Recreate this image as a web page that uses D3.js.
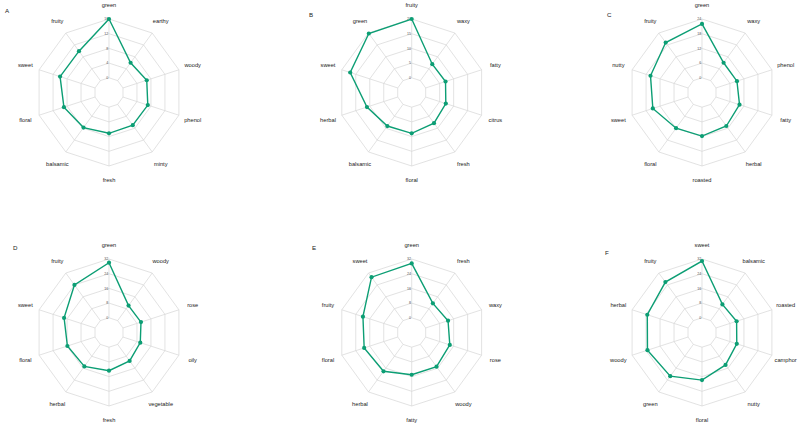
<!DOCTYPE html>
<html>
<head>
<meta charset="utf-8">
<script src="https://cdn.jsdelivr.net/npm/d3@7"></script>
<style>
  body { margin: 0; background: #fff; }
  svg { display: block; font-family: "Liberation Sans", Arial, sans-serif; }
</style>
</head>
<body>
<svg id="chart" width="799" height="428"></svg>
<script>
// 每个面板的类别和数值
const catsA = ["green", "earthy", "woody", "phenol", "minty", "fresh", "balsamic", "floral", "sweet", "fruity"];
const valsA = [16, 6.0, 6.8, 7.1, 7.0, 7.1, 7.8, 8.9, 10.0, 9.9];

const catsB = ["fruity", "waxy", "fatty", "citrus", "fresh", "floral", "balsamic", "herbal", "sweet", "green"];
const valsB = [20, 6.9, 7.1, 7.2, 7.9, 8.9, 9.1, 11.0, 17.0, 19.8];

const catsC = ["green", "waxy", "phenol", "fatty", "herbal", "roasted", "floral", "sweet", "nutty", "fruity"];
const valsC = [22, 9.0, 9.0, 10.1, 10.9, 11.8, 12.0, 15.1, 16.1, 19.2];

const catsD = ["green", "woody", "rose", "oily", "vegetable", "fresh", "herbal", "floral", "sweet", "fruity"];
const valsD = [30, 10.1, 10.3, 9.9, 11.1, 12.8, 14.8, 15.8, 17.7, 24.0];

const catsE = ["green", "fresh", "waxy", "rose", "woody", "fatty", "herbal", "floral", "fruity", "sweet"];
const valsE = [29.6, 11.6, 12.8, 13.8, 15.0, 15.0, 18.1, 19.2, 19.9, 29.2];

const catsF = ["sweet", "balsamic", "roasted", "camphor", "nutty", "floral", "green", "woody", "herbal", "fruity"];
const valsF = [30.9, 10.9, 11.8, 11.9, 13.8, 17.9, 21.4, 23.2, 23.3, 25.9];

// 径向刻度
const ticksA = [0, 4, 8, 12, 16];
const ticksB = [0, 5, 10, 15, 20];
const ticksC = [0, 6, 12, 18, 24];
const ticksD = [0, 8, 16, 24, 32];
const ticksE = [0, 8, 16, 24, 32];
const ticksF = [0, 8, 16, 24, 32];

const panels = [
  { tag: "A", cats: catsA, vals: valsA, ticks: ticksA, cx: 109, cy: 92.5, lx: 5, ly: 13 },
  { tag: "B", cats: catsB, vals: valsB, ticks: ticksB, cx: 411.7, cy: 92.5, lx: 309, ly: 17 },
  { tag: "C", cats: catsC, vals: valsC, ticks: ticksC, cx: 702, cy: 92.5, lx: 607, ly: 17 },
  { tag: "D", cats: catsD, vals: valsD, ticks: ticksD, cx: 109, cy: 332.5, lx: 13, ly: 250 },
  { tag: "E", cats: catsE, vals: valsE, ticks: ticksE, cx: 411.7, cy: 332.5, lx: 312, ly: 250 },
  { tag: "F", cats: catsF, vals: valsF, ticks: ticksF, cx: 702, cy: 332.5, lx: 605, ly: 255 }
];

const R = 73.5;          // 外圈半径
const r0 = R / 5;        // 0 值所在的内圈
const labelR = 88;       // 类别标签半径
const color = "#0c9e74";
const gridColor = "#d6d6d6";

const svg = d3.select("#chart");

panels.forEach(p => {
  const n = p.cats.length;
  const maxV = p.ticks[p.ticks.length - 1];
  const r = d3.scaleLinear([0, maxV], [r0, R]);
  const angle = d3.scalePoint(d3.range(n + 1), [0, 2 * Math.PI]); // 0..n 均分一圈

  const g = svg.append("g").attr("transform", `translate(${p.cx},${p.cy})`);

  // 网格多边形
  const ring = d3.lineRadial().angle(i => angle(i)).curve(d3.curveLinearClosed);
  p.ticks.forEach(t => {
    g.append("path")
      .attr("d", ring.radius(() => r(t))(d3.range(n)))
      .attr("fill", "none")
      .attr("stroke", gridColor)
      .attr("stroke-width", 0.7);
  });

  // 辐射线
  g.selectAll(".spoke")
    .data(d3.range(n))
    .join("line")
    .attr("class", "spoke")
    .attr("x1", i => r0 * Math.sin(angle(i)))
    .attr("y1", i => -r0 * Math.cos(angle(i)))
    .attr("x2", i => R * Math.sin(angle(i)))
    .attr("y2", i => -R * Math.cos(angle(i)))
    .attr("stroke", gridColor)
    .attr("stroke-width", 0.7);

  // 刻度标签
  g.selectAll(".tick")
    .data(p.ticks)
    .join("text")
    .attr("class", "tick")
    .attr("x", -0.8)
    .attr("y", t => -r(t))
    .attr("dy", "0.35em")
    .attr("text-anchor", "end")
    .attr("font-size", 3.6)
    .attr("fill", "#555")
    .text(t => t);

  // 数据折线
  const line = d3.lineRadial()
    .angle((d, i) => angle(i))
    .radius(d => r(d))
    .curve(d3.curveLinearClosed);
  g.append("path")
    .attr("d", line(p.vals))
    .attr("fill", "none")
    .attr("stroke", color)
    .attr("stroke-width", 1.4);

  g.selectAll(".pt")
    .data(p.vals)
    .join("circle")
    .attr("class", "pt")
    .attr("cx", (d, i) => r(d) * Math.sin(angle(i)))
    .attr("cy", (d, i) => -r(d) * Math.cos(angle(i)))
    .attr("r", 2.1)
    .attr("fill", color);

  // 类别标签
  g.selectAll(".lab")
    .data(p.cats)
    .join("text")
    .attr("class", "lab")
    .attr("x", (d, i) => labelR * Math.sin(angle(i)))
    .attr("y", (d, i) => -labelR * Math.cos(angle(i)))
    .attr("dy", "0.35em")
    .attr("text-anchor", "middle")
    .attr("font-size", 5.7)
    .attr("fill", "#222")
    .text(d => d);

  // 面板字母
  svg.append("text")
    .attr("x", p.lx)
    .attr("y", p.ly)
    .attr("font-size", 6.2)
    .attr("fill", "#222")
    .text(p.tag);
});
</script>
</body>
</html>
